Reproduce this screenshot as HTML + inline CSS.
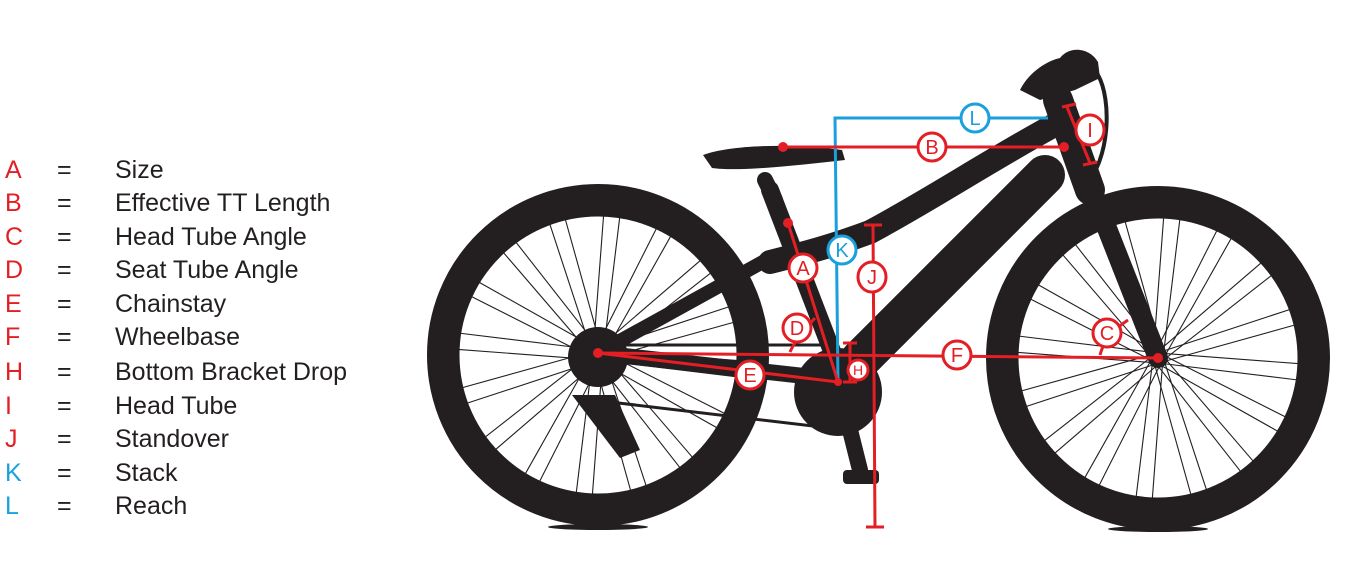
<!DOCTYPE html>
<html><head><meta charset="utf-8"><style>
html,body{margin:0;padding:0;background:#fff;}
body{width:1355px;height:578px;overflow:hidden;position:relative;font-family:"Liberation Sans Narrow","Liberation Sans",sans-serif;}
.leg{position:absolute;left:0;font-size:25px;color:#231f20;line-height:1;}
.leg span{position:absolute;white-space:nowrap;}
</style></head><body>
<div style="position:absolute;left:0;top:0;width:400px;height:578px;">
<div class="leg" style="top:158px"><span style="left:5px;color:#e31e24">A</span><span style="left:57px">=</span><span style="left:115px">Size</span></div>
<div class="leg" style="top:191px"><span style="left:5px;color:#e31e24">B</span><span style="left:57px">=</span><span style="left:115px">Effective TT Length</span></div>
<div class="leg" style="top:225px"><span style="left:5px;color:#e31e24">C</span><span style="left:57px">=</span><span style="left:115px">Head Tube Angle</span></div>
<div class="leg" style="top:258px"><span style="left:5px;color:#e31e24">D</span><span style="left:57px">=</span><span style="left:115px">Seat Tube Angle</span></div>
<div class="leg" style="top:292px"><span style="left:5px;color:#e31e24">E</span><span style="left:57px">=</span><span style="left:115px">Chainstay</span></div>
<div class="leg" style="top:325px"><span style="left:5px;color:#e31e24">F</span><span style="left:57px">=</span><span style="left:115px">Wheelbase</span></div>
<div class="leg" style="top:360px"><span style="left:5px;color:#e31e24">H</span><span style="left:57px">=</span><span style="left:115px">Bottom Bracket Drop</span></div>
<div class="leg" style="top:394px"><span style="left:5px;color:#e31e24">I</span><span style="left:57px">=</span><span style="left:115px">Head Tube</span></div>
<div class="leg" style="top:427px"><span style="left:5px;color:#e31e24">J</span><span style="left:57px">=</span><span style="left:115px">Standover</span></div>
<div class="leg" style="top:461px"><span style="left:5px;color:#1aa0dc">K</span><span style="left:57px">=</span><span style="left:115px">Stack</span></div>
<div class="leg" style="top:494px"><span style="left:5px;color:#1aa0dc">L</span><span style="left:57px">=</span><span style="left:115px">Reach</span></div>
</div>
<svg width="1355" height="578" style="position:absolute;left:0;top:0" xmlns="http://www.w3.org/2000/svg">
<defs>
<g id="spk" stroke="#231f20" stroke-width="1.1">
<line x1="5" y1="0" x2="22" y2="-140" transform="rotate(0)"/><line x1="-5" y1="0" x2="-22" y2="-140" transform="rotate(11.25)"/>
<line x1="5" y1="0" x2="22" y2="-140" transform="rotate(22.5)"/><line x1="-5" y1="0" x2="-22" y2="-140" transform="rotate(33.75)"/>
<line x1="5" y1="0" x2="22" y2="-140" transform="rotate(45)"/><line x1="-5" y1="0" x2="-22" y2="-140" transform="rotate(56.25)"/>
<line x1="5" y1="0" x2="22" y2="-140" transform="rotate(67.5)"/><line x1="-5" y1="0" x2="-22" y2="-140" transform="rotate(78.75)"/>
<line x1="5" y1="0" x2="22" y2="-140" transform="rotate(90)"/><line x1="-5" y1="0" x2="-22" y2="-140" transform="rotate(101.25)"/>
<line x1="5" y1="0" x2="22" y2="-140" transform="rotate(112.5)"/><line x1="-5" y1="0" x2="-22" y2="-140" transform="rotate(123.75)"/>
<line x1="5" y1="0" x2="22" y2="-140" transform="rotate(135)"/><line x1="-5" y1="0" x2="-22" y2="-140" transform="rotate(146.25)"/>
<line x1="5" y1="0" x2="22" y2="-140" transform="rotate(157.5)"/><line x1="-5" y1="0" x2="-22" y2="-140" transform="rotate(168.75)"/>
<line x1="5" y1="0" x2="22" y2="-140" transform="rotate(180)"/><line x1="-5" y1="0" x2="-22" y2="-140" transform="rotate(191.25)"/>
<line x1="5" y1="0" x2="22" y2="-140" transform="rotate(202.5)"/><line x1="-5" y1="0" x2="-22" y2="-140" transform="rotate(213.75)"/>
<line x1="5" y1="0" x2="22" y2="-140" transform="rotate(225)"/><line x1="-5" y1="0" x2="-22" y2="-140" transform="rotate(236.25)"/>
<line x1="5" y1="0" x2="22" y2="-140" transform="rotate(247.5)"/><line x1="-5" y1="0" x2="-22" y2="-140" transform="rotate(258.75)"/>
<line x1="5" y1="0" x2="22" y2="-140" transform="rotate(270)"/><line x1="-5" y1="0" x2="-22" y2="-140" transform="rotate(281.25)"/>
<line x1="5" y1="0" x2="22" y2="-140" transform="rotate(292.5)"/><line x1="-5" y1="0" x2="-22" y2="-140" transform="rotate(303.75)"/>
<line x1="5" y1="0" x2="22" y2="-140" transform="rotate(315)"/><line x1="-5" y1="0" x2="-22" y2="-140" transform="rotate(326.25)"/>
<line x1="5" y1="0" x2="22" y2="-140" transform="rotate(337.5)"/><line x1="-5" y1="0" x2="-22" y2="-140" transform="rotate(348.75)"/>
</g>
</defs>
<g transform="translate(598,355)"><use href="#spk"/><circle r="156" fill="none" stroke="#231f20" stroke-width="30"/><circle r="140" fill="none" stroke="#231f20" stroke-width="3"/><circle r="8" fill="#231f20"/></g>
<g transform="translate(1158,358)"><use href="#spk"/><circle r="157" fill="none" stroke="#231f20" stroke-width="30"/><circle r="141" fill="none" stroke="#231f20" stroke-width="3"/><circle r="8" fill="#231f20"/></g>
<ellipse cx="598" cy="527" rx="50" ry="3" fill="#231f20"/><ellipse cx="1158" cy="529" rx="50" ry="3" fill="#231f20"/>
<g fill="none" stroke="#231f20" stroke-linecap="round" stroke-linejoin="round">
<path d="M598 353 L840 380" stroke-width="16"/>
<path d="M598 353 L770 258" stroke-width="14"/>
<path d="M770 190 L845 385" stroke-width="18"/>
<path d="M765 180 L775 200" stroke-width="16"/>
<path d="M770 262 C810 252 835 245 870 232 C930 200 990 160 1060 122" stroke-width="24"/>
<path d="M860 360 L1045 175" stroke-width="40"/>
<path d="M1058 100 L1090 190" stroke-width="30"/>
<path d="M1088 180 L1158 358" stroke-width="20"/>
<path d="M838 382 L860 470" stroke-width="16"/>
<path d="M1098 75 C1112 100 1110 160 1085 185" stroke-width="4"/>
<path d="M600 345 L830 345" stroke-width="3"/>
<path d="M610 402 L830 428" stroke-width="3"/>
</g>
<path d="M703 155 C730 145 790 143 842 150 L845 160 C800 165 740 172 712 168 Z" fill="#231f20"/>
<path d="M1020 90 C1030 70 1050 60 1060 58 C1070 45 1090 48 1098 62 L1100 78 L1075 90 L1040 100 Z" fill="#231f20"/>
<circle cx="838" cy="392" r="44" fill="#231f20"/>
<rect x="843" y="470" width="36" height="14" rx="4" fill="#231f20"/>
<circle cx="598" cy="357" r="30" fill="#231f20"/>
<path d="M572 395 L615 395 L640 450 L620 458 Z" fill="#231f20"/>
<g stroke="#1aa0dc" stroke-width="3" fill="#fff">
<path d="M838 382 L835 118 L1048 118" fill="none"/>
<circle cx="975" cy="118" r="14"/><circle cx="842" cy="250" r="14"/>
</g>
<g stroke="#e31e24" stroke-width="3" fill="none">
<line x1="783" y1="147" x2="1064" y2="147"/>
<line x1="788" y1="223" x2="838" y2="382"/>
<line x1="873" y1="225" x2="875" y2="527"/><line x1="864" y1="225" x2="882" y2="225"/><line x1="866" y1="527" x2="884" y2="527"/>
<line x1="598" y1="353" x2="1158" y2="358"/>
<line x1="598" y1="353" x2="838" y2="382"/>
<line x1="850" y1="343" x2="850" y2="382"/><line x1="843" y1="343" x2="857" y2="343"/><line x1="843" y1="382" x2="857" y2="382"/>
<line x1="1067" y1="107" x2="1090" y2="163"/><line x1="1062" y1="107" x2="1076" y2="104"/><line x1="1083" y1="165" x2="1097" y2="162"/>
<path d="M790 352 Q795 340 815 318"/><path d="M1100 355 Q1105 335 1128 320"/>
</g>
<g fill="#e31e24"><circle cx="783" cy="147" r="5"/><circle cx="1064" cy="147" r="5"/><circle cx="788" cy="223" r="5"/><circle cx="598" cy="353" r="5"/><circle cx="1158" cy="358" r="5"/><circle cx="838" cy="382" r="4"/></g>
<g stroke="#e31e24" stroke-width="3" fill="#fff">
<circle cx="932" cy="147" r="14"/><circle cx="803" cy="268" r="14"/><circle cx="797" cy="328" r="14"/>
<circle cx="750" cy="375" r="14"/><circle cx="957" cy="355" r="14"/><circle cx="858" cy="370" r="10"/>
<circle cx="1107" cy="333" r="14"/><ellipse cx="872" cy="277" rx="14" ry="15"/><ellipse cx="1090" cy="130" rx="14" ry="15"/>
</g>
<g font-family="Liberation Sans Narrow,Liberation Sans,sans-serif" font-size="20" text-anchor="middle">
<text x="975" y="125" fill="#1aa0dc">L</text><text x="842" y="257" fill="#1aa0dc">K</text>
<g fill="#e31e24"><text x="932" y="154">B</text><text x="803" y="275">A</text><text x="797" y="335">D</text><text x="750" y="382">E</text><text x="957" y="362">F</text><text x="858" y="375" font-size="14">H</text><text x="1107" y="340">C</text><text x="872" y="284">J</text><text x="1090" y="137">I</text></g>
</g>
</svg>
</body></html>
